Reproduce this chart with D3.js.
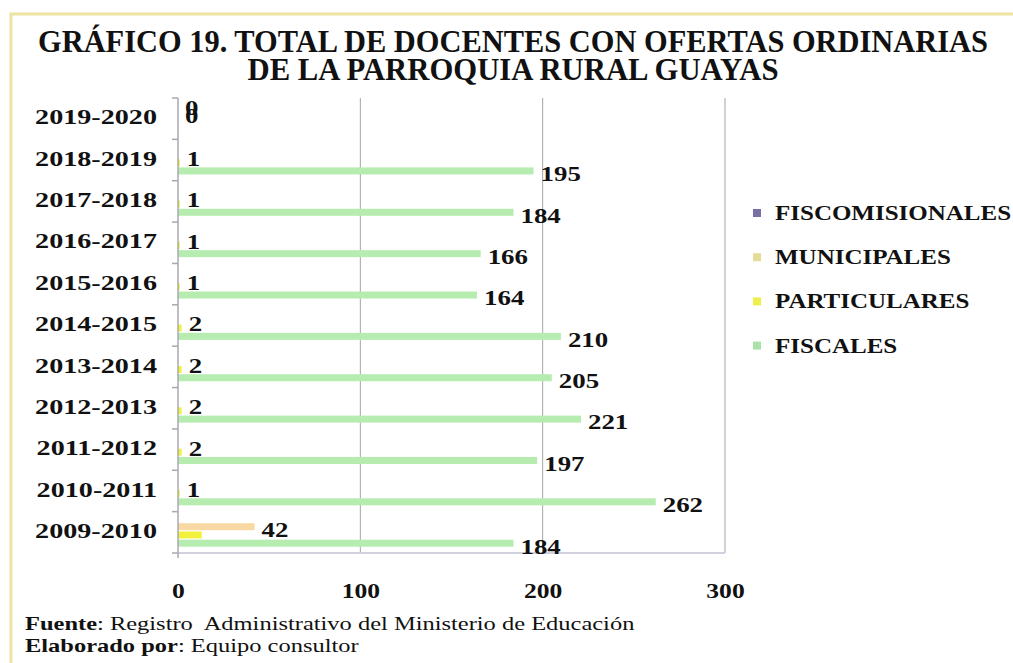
<!DOCTYPE html>
<html>
<head>
<meta charset="utf-8">
<script src="https://cdn.jsdelivr.net/npm/d3@7"></script>
<style>
  html, body { margin: 0; padding: 0; background: #fff; }
  svg { display: block; }
  text { font-family: "Liberation Serif", "DejaVu Serif", serif; fill: #111; }
</style>
</head>
<body>
<div id="chart"></div>
<script>
// data (bottom to top in the chart)
var years = ["2009-2010", "2010-2011", "2011-2012", "2012-2013", "2013-2014", "2014-2015",
             "2015-2016", "2016-2017", "2017-2018", "2018-2019", "2019-2020"];
var fiscales        = [184, 262, 197, 221, 205, 210, 164, 166, 184, 195, null];
var particulares    = [13, 1, 2, 2, 2, 2, 1, 1, 1, 1, null];
var municipales     = [42, null, null, null, null, null, null, null, null, null, 0];
var fiscomisionales = [null, null, null, null, null, null, null, null, null, null, 0];
// labels Excel printed (the 13 of 2009-2010 has none)
var particularesLabels = [null, 1, 2, 2, 2, 2, 1, 1, 1, 1, null];
var xTicks = [0, 100, 200, 300];

var seriesNames = ["FISCOMISIONALES", "MUNICIPALES", "PARTICULARES", "FISCALES"];
var seriesValues = [fiscomisionales, municipales, particulares, fiscales];
var seriesLabels = [fiscomisionales, municipales, particularesLabels, fiscales];
var barColors = ["#7d72aa", "#f8d9a4", "#f2f23c", "#b6ecaf"];
var legendColors = ["#7a70a8", "#e6dc98", "#eef04a", "#a9e2a9"];

const width = 1013, height = 663;
const stretch = 1.28; // the picture is stretched sideways

const svg = d3.select("#chart").append("svg")
    .attr("width", width)
    .attr("height", height);

svg.append("rect").attr("width", width).attr("height", height).attr("fill", "#fff");

// pale yellow frame
svg.append("rect")
    .attr("x", 11).attr("y", 14)
    .attr("width", 1200).attr("height", 900)
    .attr("fill", "none")
    .attr("stroke", "#ece4a2")
    .attr("stroke-width", 3);

// title
var titleLines = ["GRÁFICO 19. TOTAL DE DOCENTES CON OFERTAS ORDINARIAS", "DE LA PARROQUIA  RURAL GUAYAS"];
var titleY = [52, 80], titleLen = [950, 531];
titleLines.forEach((t, i) => {
  svg.append("text")
      .attr("x", 513).attr("y", titleY[i])
      .attr("text-anchor", "middle")
      .attr("font-size", 32)
      .attr("font-weight", "bold")
      .attr("textLength", titleLen[i])
      .attr("lengthAdjust", "spacingAndGlyphs")
      .text(t);
});

// scales
const x = d3.scaleLinear().domain([0, 300]).range([178, 725]);
const y = d3.scaleBand().domain(years.slice().reverse()).range([98, 553]);
const y1 = d3.scaleBand().domain(seriesNames)
    .range([0, y.bandwidth() - 3])
    .paddingInner(0.15).paddingOuter(0.4);

// grid lines
svg.append("g")
  .selectAll("line")
  .data(xTicks.slice(1))
  .join("line")
    .attr("x1", d => x(d)).attr("x2", d => x(d))
    .attr("y1", 98).attr("y2", 553)
    .attr("stroke", "#a4a4a4")
    .attr("stroke-width", 1);

// bars
var rows = [];
seriesNames.forEach((s, si) => {
  years.forEach((yr, i) => {
    rows.push({ series: s, year: yr, value: seriesValues[si][i], label: seriesLabels[si][i], color: barColors[si] });
  });
});

svg.append("g")
  .selectAll("rect")
  .data(rows.filter(d => d.value != null && d.value > 0))
  .join("rect")
    .attr("x", x(0))
    .attr("y", d => y(d.year) + y1(d.series))
    .attr("width", d => x(d.value) - x(0))
    .attr("height", y1.bandwidth())
    .attr("fill", d => d.color);

// axis lines
svg.append("line")
    .attr("x1", x(0)).attr("x2", x(300))
    .attr("y1", 553).attr("y2", 553)
    .attr("stroke", "#d2d2de").attr("stroke-width", 2);

svg.append("line")
    .attr("x1", x(0)).attr("x2", x(0))
    .attr("y1", 98).attr("y2", 558)
    .attr("stroke", "#a8a8b0").attr("stroke-width", 1.5);

// small ticks at band edges on the left
svg.append("g")
  .selectAll("line")
  .data(years.concat(["end"]))
  .join("line")
    .attr("x1", x(0) - 6).attr("x2", x(0))
    .attr("y1", d => d === "end" ? 553 : y(d))
    .attr("y2", d => d === "end" ? 553 : y(d))
    .attr("stroke", "#a8a8b0").attr("stroke-width", 1.5);

// category axis
const yAxis = svg.append("g")
    .attr("transform", `translate(${x(0)},0)`)
    .call(d3.axisLeft(y).tickSize(0));
yAxis.select(".domain").remove();
yAxis.selectAll("text")
    .attr("x", 0)
    .attr("dy", "0.35em")
    .attr("transform", `translate(-21,-2) scale(${stretch},1)`)
    .attr("font-size", 22)
    .attr("font-weight", "bold")
    .attr("font-family", "Liberation Serif, serif")
    .attr("fill", "#151515");

// value axis
const xAxis = svg.append("g")
    .attr("transform", "translate(0,553)")
    .call(d3.axisBottom(x).tickValues(xTicks).tickSize(0).tickFormat(d3.format("d")));
xAxis.select(".domain").remove();
xAxis.selectAll("text")
    .attr("y", 0)
    .attr("dy", 0)
    .attr("transform", `translate(0,45) scale(${stretch},1)`)
    .attr("font-size", 20)
    .attr("font-weight", "bold")
    .attr("font-family", "Liberation Serif, serif")
    .attr("fill", "#151515");

// data labels (the small ones sit a little above their bar)
svg.append("g")
  .selectAll("text")
  .data(rows.filter(d => d.label != null))
  .join("text")
    .attr("transform", d => {
      var ly = y(d.year) + y1(d.series) + y1.bandwidth() / 2 + (d.series === "PARTICULARES" ? -4 : 3);
      return `translate(${x(d.value) + 7},${ly}) scale(${stretch},1)`;
    })
    .attr("dy", "0.35em")
    .attr("font-size", 21)
    .attr("font-weight", "bold")
    .text(d => d.label);

// legend
const legend = svg.append("g")
  .selectAll("g")
  .data(seriesNames)
  .join("g")
    .attr("transform", (d, i) => `translate(753,${213 + i * 44.2})`);

legend.append("rect")
    .attr("x", 0).attr("y", -4)
    .attr("width", 8).attr("height", 8)
    .attr("fill", (d, i) => legendColors[i]);

legend.append("text")
    .attr("transform", `translate(22,0) scale(1.25,1)`)
    .attr("dy", "0.35em")
    .attr("font-size", 20)
    .attr("font-weight", "bold")
    .text(d => d);

// source notes
var notes = [["Fuente", ": Registro  Administrativo del Ministerio de Educación"],
             ["Elaborado por", ": Equipo consultor"]];
var noteY = [630, 652];
notes.forEach((n, i) => {
  var t = svg.append("text")
      .attr("transform", `translate(25,${noteY[i]}) scale(1.36,1)`)
      .attr("font-size", 18)
      .attr("xml:space", "preserve")
      .style("white-space", "pre");
  t.append("tspan").attr("font-weight", "900").text(n[0]);
  t.append("tspan").text(n[1]);
});
</script>
</body>
</html>
